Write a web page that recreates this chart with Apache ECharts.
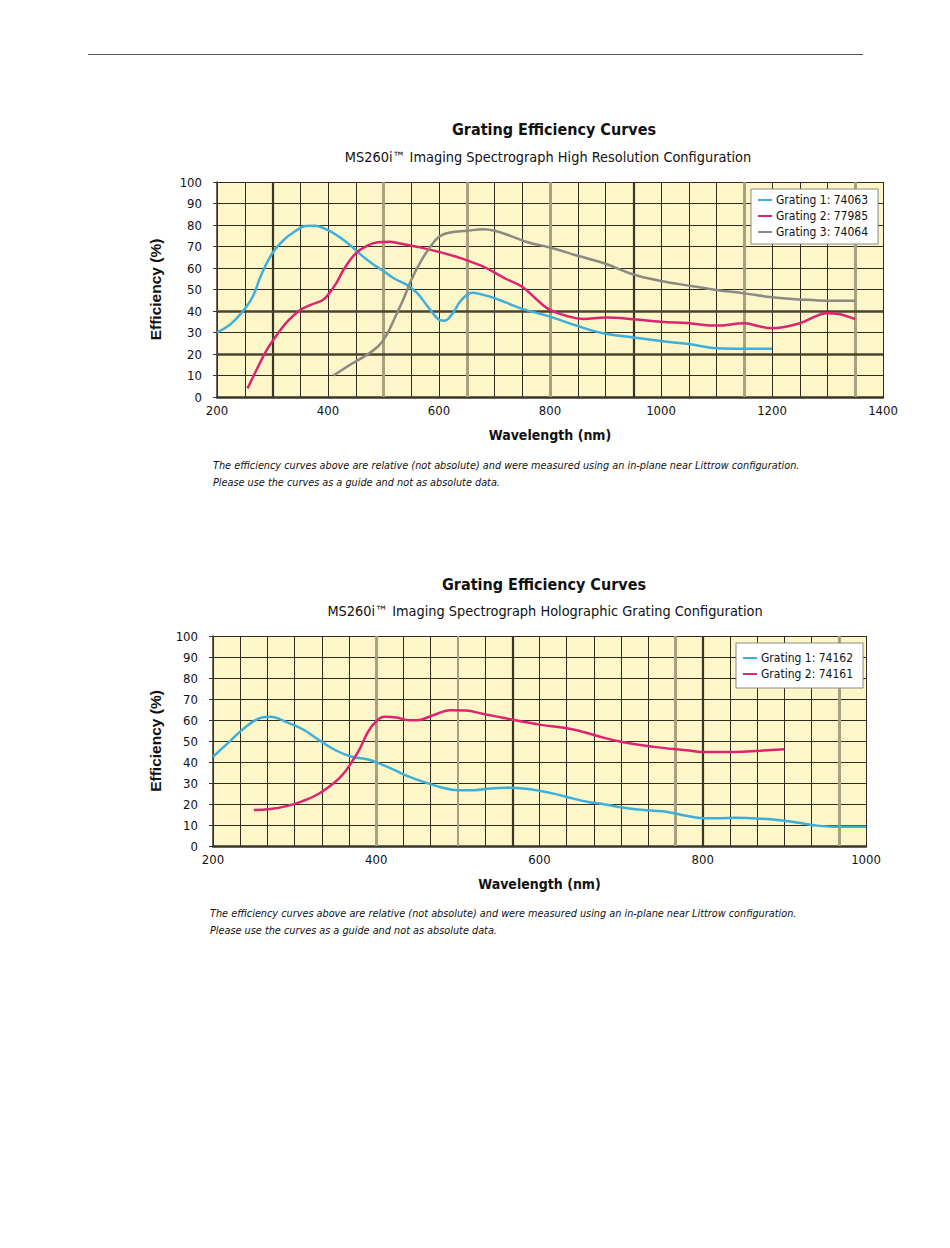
<!DOCTYPE html>
<html><head><meta charset="utf-8">
<script src="https://cdn.jsdelivr.net/npm/echarts@6/dist/echarts.min.js"></script>
<style>html,body{margin:0;padding:0;background:#fff}#c{width:950px;height:1248px}</style>
</head><body><div id="c"></div>
<script>
// ---------- Data: High Resolution Configuration ----------
const hrNames = ['Grating 1: 74063', 'Grating 2: 77985', 'Grating 3: 74064'];
const hrG1Wl  = [200,225,250,265,280,300,320,340,360,375,400,420,440,460,480,500,520,540,560,580,600,610,625,640,660,680,700,720,750,800,850,900,950,1000,1050,1100,1150,1200];
const hrG1Eff = [30,34,41,47,57,67,73,77,79.5,79.6,77.6,74.5,70.6,66,62,58.6,55,52.5,48.5,42,36,35.5,39,45,48.5,47.5,46,44,41,37.4,33,29.4,27.7,26,24.6,22.7,22.5,22.5];
const hrG2Wl  = [255,270,290,310,330,350,370,390,400,415,430,450,470,490,510,530,560,600,640,680,720,750,780,800,830,860,900,950,1000,1050,1100,1150,1175,1200,1250,1300,1320,1350];
const hrG2Eff = [4,12,22,29.7,36,40.5,43,45,47.5,53,60,66.8,70.3,72,72.2,71.4,69.9,67.5,64.5,60.6,55,51.3,44.4,40.5,37.7,36.3,37,36.2,35,34.3,33.2,34.3,33,32,34.3,39,38.6,36.2];
const hrG3Wl  = [410,440,470,490,500,510,520,535,550,565,580,600,620,650,680,700,730,760,800,850,900,950,1000,1050,1100,1150,1200,1250,1300,1350];
const hrG3Eff = [10,15,19.6,23.5,26.6,31,36.6,45,54.4,62,68.3,74.5,76.5,77.3,78,77.3,74.8,72,69.5,65.7,62,57,54,51.8,49.8,48.2,46.4,45.4,44.8,44.8];

// ---------- Data: Holographic Grating Configuration ----------
const hgNames = ['Grating 1: 74162', 'Grating 2: 74161'];
const hgG1Wl  = [200,220,240,260,270,290,310,330,350,370,390,400,420,440,460,480,500,520,540,560,580,600,620,640,660,680,700,720,740,760,780,800,820,840,860,880,900,920,940,960,980,1000];
const hgG1Eff = [42.5,49.6,56.7,61.2,61.5,59,55.6,50.4,45.6,42.5,41.2,39.8,36.6,33,30.3,27.9,26.6,26.6,27.4,27.7,27.4,26.3,24.7,22.7,21,19.8,18.4,17.4,16.8,16,14.4,13.2,13.2,13.5,13.2,12.8,12,10.9,9.7,9.2,9.2,9.2];
const hgG2Wl  = [250,270,290,310,330,350,360,370,380,390,400,410,425,440,450,470,490,510,530,560,600,640,670,700,740,780,800,840,870,900];
const hgG2Eff = [17.1,17.6,19,21.4,25,30.6,34.5,40,46.4,54.4,59.4,61.5,61.2,59.9,59.9,62.3,64.7,64.5,63,60.7,57.8,55.6,52.5,49.6,47.2,45.6,44.8,44.8,45.4,46.1];

// Emphasised grid lines (as drawn in the original artwork)
const hrDarkV = [300, 950];
const hrGrayV = [500, 650, 800, 1150, 1350];
const hrDarkH = [20, 40];
const hgDarkV = [566.667, 800];
const hgGrayV = [400, 766.667, 966.667];
const hgMidV  = [500];

const titleMain = 'Grating Efficiency Curves';
const hrSub = 'MS260i\u2122 Imaging Spectrograph High Resolution Configuration';
const hgSub = 'MS260i\u2122 Imaging Spectrograph Holographic Grating Configuration';
const caption1 = 'The efficiency curves above are relative (not absolute) and were measured using an in-plane near Littrow configuration.';
const caption2 = 'Please use the curves as a guide and not as absolute data.';

const zip = (a, b) => a.map((v, i) => [v, b[i]]);
const COND = "'DejaVu Sans Condensed','Liberation Sans',sans-serif";
const GRID_C = '#2f2b20';
const GRAY_C = '#a89f7c';
const BLUE = '#3eaedb', MAG = '#dc2470', GREY = '#8b8a82';

function xAxisCfg(gridIndex, max, minorSplit, gap) {
  return {
    type: 'value', gridIndex, min: 200, max, interval: 200,
    name: 'Wavelength (nm)', nameLocation: 'middle', nameGap: gap,
    nameTextStyle: { fontFamily: COND, fontWeight: 'bold', fontSize: 14, color: '#111' },
    axisLine: { show: true, onZero: false, lineStyle: { color: '#3a3528', width: 2.5 } },
    axisTick: { show: false },
    axisLabel: { margin: 7, fontFamily: COND, fontSize: 13, color: '#111', formatter: v => String(v) },
    splitLine: { show: true, lineStyle: { color: GRID_C, width: 1 } },
    minorTick: { show: true, splitNumber: minorSplit, length: 0, lineStyle: { width: 0 } },
    minorSplitLine: { show: true, lineStyle: { color: GRID_C, width: 1 } }
  };
}
function yAxisCfg(gridIndex, gap) {
  return {
    type: 'value', gridIndex, min: 0, max: 100, interval: 10,
    name: 'Efficiency (%)', nameLocation: 'middle', nameGap: gap, nameRotate: 90,
    nameTextStyle: { fontFamily: "'Liberation Sans',sans-serif", fontWeight: 'bold', fontSize: 15.5, color: '#111' },
    axisLine: { show: true, lineStyle: { color: '#3a3528', width: 1.5 } },
    axisTick: { show: true, length: 4, lineStyle: { color: '#3a3528' } },
    axisLabel: { margin: 15, fontFamily: COND, fontSize: 13, color: '#111' },
    splitLine: { show: true, lineStyle: { color: GRID_C, width: 1 } }
  };
}
function curve(name, idx, wl, eff, color) {
  return {
    name, type: 'line', xAxisIndex: idx, yAxisIndex: idx, data: zip(wl, eff),
    smooth: 0.4, showSymbol: false, symbol: 'none', z: 3,
    lineStyle: { color, width: 2.5 }, itemStyle: { color }
  };
}
function vLine(v, color, width) { return { xAxis: v, lineStyle: { color, width, type: 'solid' } }; }
function hLine(v, color, width) { return { yAxis: v, lineStyle: { color, width, type: 'solid' } }; }
function guide(idx, marks) {
  return {
    type: 'line', xAxisIndex: idx, yAxisIndex: idx, data: [], z: 1, silent: true,
    markLine: { z: 1, silent: true, symbol: 'none', label: { show: false }, animation: false, data: marks }
  };
}
const legendText = { fontFamily: COND, fontSize: 12, color: '#111', padding: [0, 0, 0, -1] };

const chart = echarts.init(document.getElementById('c'), null, { renderer: 'svg' });
chart.setOption({
  animation: false,
  backgroundColor: '#ffffff',
  grid: [
    { left: 217, top: 182, width: 666, height: 215, show: true, backgroundColor: '#fcf6c9', borderWidth: 0 },
    { left: 213, top: 636, width: 653, height: 210, show: true, backgroundColor: '#fcf6c9', borderWidth: 0 }
  ],
  xAxis: [ xAxisCfg(0, 1400, 4, 31), xAxisCfg(1, 1000, 6, 31) ],
  yAxis: [ yAxisCfg(0, 54), yAxisCfg(1, 50) ],
  legend: [
    { data: hrNames, orient: 'vertical', left: 751, top: 189, itemGap: 4, itemWidth: 14, itemHeight: 2, icon: 'rect', z: 10,
      backgroundColor: '#ffffff', borderColor: '#8a8a8a', borderWidth: 1, padding: [5, 10, 6, 7], textStyle: legendText },
    { data: hgNames, orient: 'vertical', left: 736, top: 643, itemGap: 4, itemWidth: 14, itemHeight: 2, icon: 'rect', z: 10,
      backgroundColor: '#ffffff', borderColor: '#8a8a8a', borderWidth: 1, padding: [9, 10, 8, 7], textStyle: legendText }
  ],
  series: [
    guide(0, [].concat(
      hrGrayV.map(v => vLine(v, GRAY_C, 3)),
      hrDarkV.map(v => vLine(v, '#3a3426', 2.2)),
      hrDarkH.map(v => hLine(v, '#4a4330', 2.5)))),
    curve(hrNames[0], 0, hrG1Wl, hrG1Eff, BLUE),
    curve(hrNames[1], 0, hrG2Wl, hrG2Eff, MAG),
    curve(hrNames[2], 0, hrG3Wl, hrG3Eff, GREY),
    guide(1, [].concat(
      hgGrayV.map(v => vLine(v, GRAY_C, 3)),
      hgMidV.map(v => vLine(v, GRAY_C, 2)),
      hgDarkV.map(v => vLine(v, '#3a3426', 2.2)))),
    curve(hgNames[0], 1, hgG1Wl, hgG1Eff, BLUE),
    curve(hgNames[1], 1, hgG2Wl, hgG2Eff, MAG)
  ],
  graphic: [
    { type: 'line', shape: { x1: 88, y1: 54.5, x2: 863, y2: 54.5 }, style: { stroke: '#555', lineWidth: 1.2 } },
    { type: 'text', x: 554, y: 129, style: { text: titleMain, textAlign: 'center', textVerticalAlign: 'middle', font: "bold 16px " + COND, fill: '#111' } },
    { type: 'text', x: 548, y: 157, style: { text: hrSub, textAlign: 'center', textVerticalAlign: 'middle', font: "14.4px " + COND, fill: '#111' } },
    { type: 'text', x: 213, y: 465, style: { text: caption1, textAlign: 'left', textVerticalAlign: 'middle', font: "italic 10.8px " + COND, fill: '#111' } },
    { type: 'text', x: 213, y: 482, style: { text: caption2, textAlign: 'left', textVerticalAlign: 'middle', font: "italic 10.8px " + COND, fill: '#111' } },
    { type: 'text', x: 544, y: 584, style: { text: titleMain, textAlign: 'center', textVerticalAlign: 'middle', font: "bold 16px " + COND, fill: '#111' } },
    { type: 'text', x: 545, y: 611, style: { text: hgSub, textAlign: 'center', textVerticalAlign: 'middle', font: "14.4px " + COND, fill: '#111' } },
    { type: 'text', x: 210, y: 913, style: { text: caption1, textAlign: 'left', textVerticalAlign: 'middle', font: "italic 10.8px " + COND, fill: '#111' } },
    { type: 'text', x: 210, y: 930, style: { text: caption2, textAlign: 'left', textVerticalAlign: 'middle', font: "italic 10.8px " + COND, fill: '#111' } }
  ]
});
</script></body></html>
